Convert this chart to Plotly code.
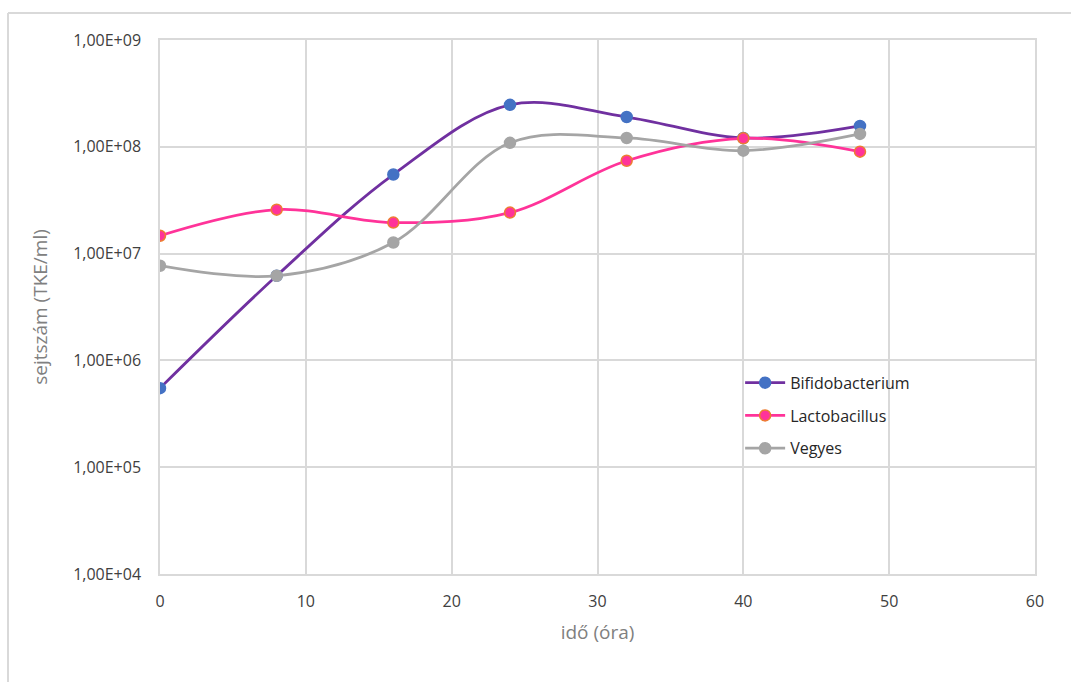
import plotly.graph_objects as go

# Mintavételi időpontok (óra)
ido = [0, 8, 16, 24, 32, 40, 48]

# Sejtszám (TKE/ml)
bifidobacterium = [5.5e5, 6.2e6, 5.5e7, 2.47e8, 1.9e8, 1.21e8, 1.57e8]
lactobacillus = [1.47e7, 2.58e7, 1.95e7, 2.42e7, 7.4e7, 1.2e8, 9.0e7]
vegyes = [7.7e6, 6.2e6, 1.27e7, 1.09e8, 1.21e8, 9.2e7, 1.32e8]

y_tickvals = [1e4, 1e5, 1e6, 1e7, 1e8, 1e9]
y_ticktext = ["1,00E+04", "1,00E+05", "1,00E+06", "1,00E+07", "1,00E+08", "1,00E+09"]
x_tickvals = [0, 10, 20, 30, 40, 50, 60]

FONT = "Open Sans"
GRID = "#d9d9d9"

series = [
    ("Bifidobacterium", bifidobacterium, "#7030A0", "#4472C4", "#4472C4"),
    ("Lactobacillus", lactobacillus, "#FF3399", "#FF3399", "#ED7D31"),
    ("Vegyes", vegyes, "#A5A5A5", "#A5A5A5", "#A5A5A5"),
]

fig = go.Figure()
for name, vals, line_col, fill_col, edge_col in series:
    fig.add_trace(go.Scatter(
        x=ido, y=vals, name=name, legendgroup=name,
        mode="lines+markers",
        line=dict(color=line_col, width=2.75, shape="spline", smoothing=1.0),
        marker=dict(size=11, color=fill_col, line=dict(color=edge_col, width=1.5)),
    ))

fig.update_layout(
    width=1071, height=682,
    margin=dict(l=160, r=36, t=40, b=108),
    paper_bgcolor="white", plot_bgcolor="white",
    font=dict(family=FONT, size=16, color="#404040"),
    showlegend=True,
    legend=dict(
        x=0.663, y=0.39, xanchor="left", yanchor="top",
        font=dict(family=FONT, size=16, color="#262626"),
        bgcolor="rgba(255,255,255,0)", tracegroupgap=9,
        itemwidth=40,
    ),
    xaxis=dict(
        range=[0, 60], tickvals=x_tickvals, ticks="",
        showgrid=True, gridcolor=GRID, gridwidth=1.5,
        showline=True, linecolor=GRID, linewidth=1.5, mirror=True,
        zeroline=False, ticklabelstandoff=12,
        tickfont=dict(family=FONT, size=16, color="#404040"),
        title=dict(text="idő (óra)", font=dict(family=FONT, size=19, color="#808080"), standoff=15),
    ),
    yaxis=dict(
        type="log", range=[4, 9], tickvals=y_tickvals, ticktext=y_ticktext, ticks="",
        showgrid=True, gridcolor=GRID, gridwidth=1.5,
        showline=True, linecolor=GRID, linewidth=1.5, mirror=True,
        zeroline=False, ticklabelstandoff=14,
        tickfont=dict(family=FONT, size=16, color="#404040"),
        title=dict(text="sejtszám (TKE/ml)", font=dict(family=FONT, size=19, color="#808080"), standoff=20),
    ),
    shapes=[
        dict(type="line", xref="paper", yref="paper", x0=-0.1737, x1=1.1, y0=1.0506, y1=1.0506,
             line=dict(color=GRID, width=2)),
        dict(type="line", xref="paper", yref="paper", x0=-0.1737, x1=-0.1737, y0=-0.3, y1=1.0506,
             line=dict(color=GRID, width=2)),
    ],
)

fig.write_html("out.html")
